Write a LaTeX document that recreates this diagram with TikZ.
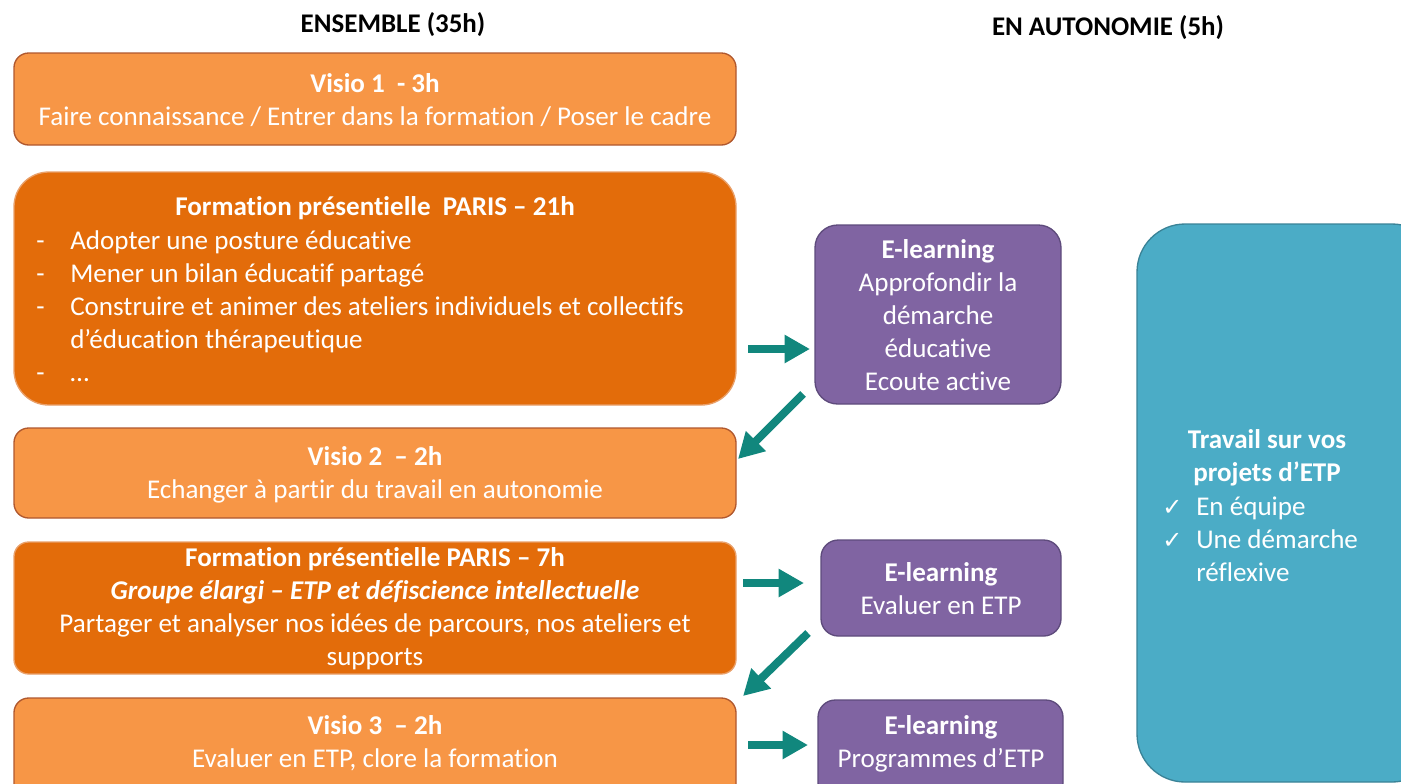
\documentclass[tikz,border=0pt]{standalone}
\usepackage{fontspec}
\setmainfont{Carlito}[Ligatures=NoCommon]
\newfontfamily\djv{DejaVu Sans}
\usetikzlibrary{fit,arrows.meta}
\definecolor{lorange}{HTML}{F79646}
\definecolor{lorangeB}{HTML}{B0582E}
\definecolor{dorange}{HTML}{E36C0A}
\definecolor{dorangeB}{HTML}{E9A06A}
\definecolor{purp}{HTML}{8064A2}
\definecolor{purpB}{HTML}{5E4B7C}
\definecolor{blu}{HTML}{4BACC6}
\definecolor{bluB}{HTML}{3A8397}
\definecolor{tealA}{HTML}{11877D}
\begin{document}
\begin{tikzpicture}[x=0.75pt,y=-0.75pt,
  box/.style={inner sep=0pt, outer sep=0pt, line width=1pt},
  lightbox/.style={box, fill=lorange, draw=lorangeB, rounded corners=11pt},
  darkbox/.style={box, fill=dorange, draw=dorangeB, rounded corners=11pt},
  purpbox/.style={box, fill=purp, draw=purpB, rounded corners=17pt},
  blubox/.style={box, fill=blu, draw=bluB, rounded corners=36pt},
  txt/.style={text=white, font=\fontsize{20.3}{24.75}\selectfont, align=center, inner sep=0pt},
  listtxt/.style={txt, align=left, anchor=west},
  head/.style={font=\fontsize{20.2}{24}\selectfont\bfseries, inner sep=0pt},
  arr/.style={draw=tealA, line width=6pt, -{Triangle[length=19pt,width=20pt]}},
]
\useasboundingbox (0,0) rectangle (1401,783);
\clip (0,0) rectangle (1401,783);

% headers
\node[head] (h1) at (393,25) {ENSEMBLE (35h)};
\node[head] (h2) at (1108,28) {EN AUTONOMIE (5h)};

% left column boxes
\node[lightbox, fit={(14,53) (736,145)}] (v1) {};
\node[darkbox, rounded corners=26pt, fit={(14,172) (736,405)}] (f21) {};
\node[lightbox, fit={(14,428) (736,518)}] (v2) {};
\node[darkbox, fit={(14,542) (736,674)}] (f7) {};
\node[lightbox, fit={(14,698) (736,800)}] (v3) {};

% right boxes
\node[purpbox, fit={(815,225) (1061,404)}] (e1) {};
\node[purpbox, rounded corners=13pt, fit={(821,540) (1061,636)}] (e2) {};
\node[purpbox, rounded corners=13pt, fit={(818,700) (1063,800)}] (e3) {};
\node[blubox, fit={(1137,224) (1440,782)}] (tw) {};

% texts
\node[txt] (v1t) at (375,100.5) {\textbf{Visio 1~~- 3h}\\Faire connaissance / Entrer dans la formation / Poser le cadre};
\node[txt] (f21t) at (375,208) {\textbf{Formation présentielle~~PARIS – 21h}};
\node[listtxt] (f21l) at (36,306) {\makebox[25.5pt][l]{-}Adopter une posture éducative\\
\makebox[25.5pt][l]{-}Mener un bilan éducatif partagé\\
\makebox[25.5pt][l]{-}Construire et animer des ateliers individuels et collectifs\\
\hspace*{25.5pt}d’éducation thérapeutique\\
\makebox[25.5pt][l]{-}…};
\node[txt] (v2t) at (375,474.5) {\textbf{Visio 2~~– 2h}\\Echanger à partir du travail en autonomie};
\node[txt] (f7t) at (375,609) {\textbf{Formation présentielle PARIS – 7h}\\
\textbf{\textit{Groupe élargi – ETP et défiscience intellectuelle}}\\
Partager et analyser nos idées de parcours, nos ateliers et\\supports};
\node[txt] (v3t) at (375,743.5) {\textbf{Visio 3~~– 2h}\\Evaluer en ETP, clore la formation};

\node[txt] (e1t) at (938,315.5) {\textbf{E-learning}\\Approfondir la\\démarche\\éducative\\Ecoute active};
\node[txt] (e2t) at (941,589) {\textbf{E-learning}\\Evaluer en ETP};
\node[txt] (e3t) at (941,743.5) {\textbf{E-learning}\\Programmes d’ETP};

\node[txt] (twt) at (1267,457.5) {\textbf{Travail sur vos}\\\textbf{projets d’ETP}};
\node[listtxt] (twl) at (1162,539) {\makebox[25.5pt][l]{\djv\fontsize{18}{24.75}\selectfont ✓}En équipe\\
\makebox[25.5pt][l]{\djv\fontsize{18}{24.75}\selectfont ✓}Une démarche\\
\hspace*{25.5pt}réflexive};

% arrows
\coordinate (a1s) at (748,349);  \coordinate (a1e) at (810,349);
\coordinate (a2s) at (803,394);  \coordinate (a2e) at (738,459);
\coordinate (a3s) at (743,583);  \coordinate (a3e) at (804,583);
\coordinate (a4s) at (808,633);  \coordinate (a4e) at (743,696);
\coordinate (a5s) at (748,745);  \coordinate (a5e) at (808,745);
\draw[arr] (a1s) -- (a1e);
\draw[arr] (a2s) -- (a2e);
\draw[arr] (a3s) -- (a3e);
\draw[arr] (a4s) -- (a4e);
\draw[arr] (a5s) -- (a5e);
\end{tikzpicture}
\end{document}
